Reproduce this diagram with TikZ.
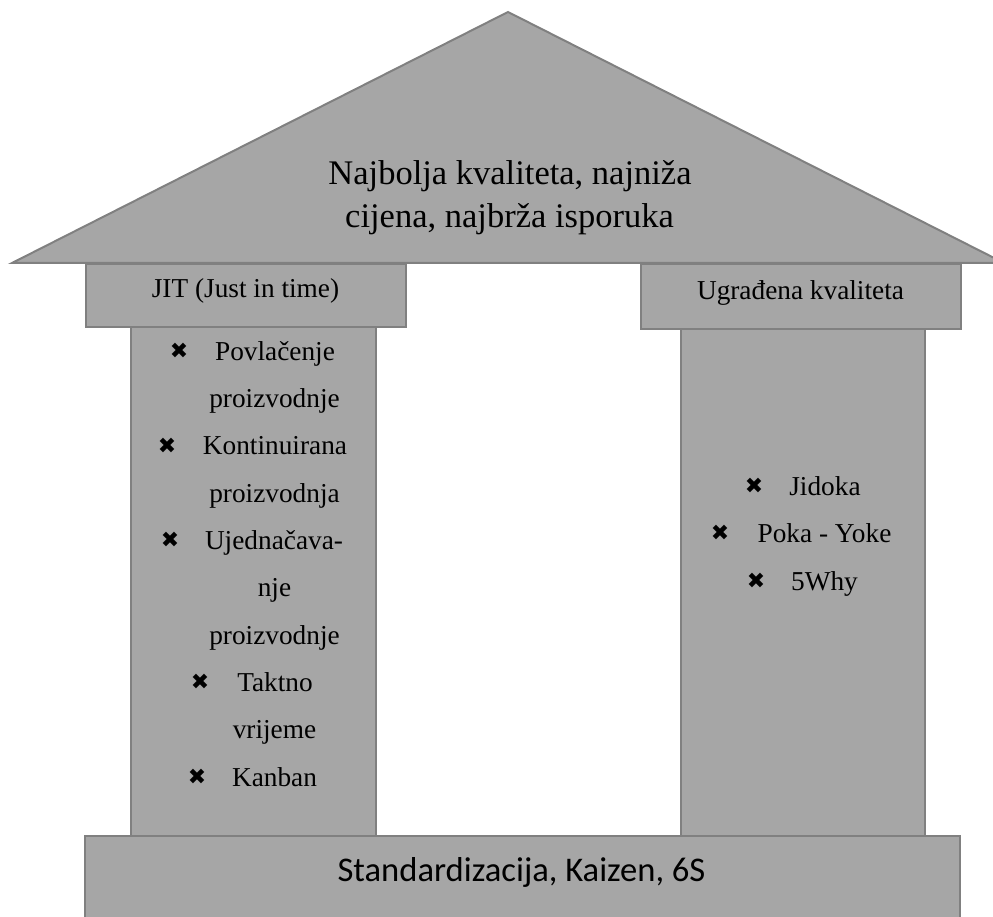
\documentclass[tikz,border=0pt]{standalone}
\usepackage{fontspec}
\setmainfont{Liberation Serif}
\newfontfamily\calibri{Carlito}
\newfontfamily\symb{DejaVu Sans}
\definecolor{fillg}{RGB}{166,166,166}
\definecolor{lineg}{RGB}{128,128,128}
\begin{document}
\begin{tikzpicture}[x=1pt,y=-1pt,
  blk/.style={fill=fillg, draw=lineg, line width=2pt, rectangle, inner sep=0pt, anchor=north west},
  lbl/.style={font=\fontsize{27.3}{33}\selectfont, inner sep=0pt, anchor=mid, yshift=-6pt},
  rooftxt/.style={font=\fontsize{34.5}{42}\selectfont, inner sep=0pt, anchor=base},
  bul/.style={font=\symb\fontsize{22}{22}\selectfont, inner sep=0pt, anchor=center}
]
\useasboundingbox (0,0) rectangle (993,917);
% pillars
\node[blk, minimum width=245pt, minimum height=510pt] (lp) at (130,326) {};
\node[blk, minimum width=244pt, minimum height=508pt] (rp) at (680,328) {};
% capitals
\node[blk, minimum width=320pt, minimum height=63pt] (lcap) at (85,263) {};
\node[blk, minimum width=320pt, minimum height=65pt] (rcap) at (640,263) {};
% roof
\coordinate (rl) at (12,263);
\coordinate (ra) at (508,12);
\coordinate (rr) at (993,257.4);
\coordinate (rb) at (993,263);
\fill[fillg] (rl) -- (ra) -- (rr) -- (rb) -- cycle;
\draw[lineg, line width=2pt, line join=miter] (rr) -- (ra) -- (rl) -- (rb);
% base
\node[fill=fillg, inner sep=0pt, anchor=north west, minimum width=875pt, minimum height=81pt] (base) at (85,836) {};
\draw[lineg, line width=2pt] (base.south west) -- (base.north west) -- (base.north east) -- (base.south east);
% texts
\node[rooftxt] (r1) at (510,185) {Najbolja kvaliteta, najniža};
\node[rooftxt] (r2) at (509.5,228) {cijena, najbrža isporuka};
\node[lbl] (jit) at (245.5,289) {JIT (Just in time)};
\node[lbl] (ugr) at (800.5,291) {Ugrađena kvaliteta};
\node[font=\calibri\fontsize{34.6}{40}\selectfont, inner sep=0pt, anchor=mid] (std) at (521.5,879) {Standardizacija, Kaizen, 6S};
% left list
\node[bul] (b1) at (179,351) {✖};
\node[lbl] (l1) at (275,352) {Povlačenje};
\node[lbl] (l2) at (274.5,399.3) {proizvodnje};
\node[bul] (b2) at (167,446) {✖};
\node[lbl] (l3) at (275,446.6) {Kontinuirana};
\node[lbl] (l4) at (274.5,494) {proizvodnja};
\node[bul] (b3) at (170,540) {✖};
\node[lbl] (l5) at (274,541.2) {Ujednačava-};
\node[lbl] (l6) at (274.5,588.5) {nje};
\node[lbl] (l7) at (274.5,635.8) {proizvodnje};
\node[bul] (b4) at (200,682) {✖};
\node[lbl] (l8) at (275,683.1) {Taktno};
\node[lbl] (l9) at (274.5,730.4) {vrijeme};
\node[bul] (b5) at (197,777) {✖};
\node[lbl] (l10) at (274.5,777.7) {Kanban};
% right list
\node[bul] (c1) at (754,486) {✖};
\node[lbl] (m1) at (825,487) {Jidoka};
\node[bul] (c2) at (720,533) {✖};
\node[lbl] (m2) at (824.5,534.5) {Poka - Yoke};
\node[bul] (c3) at (756,581) {✖};
\node[lbl] (m3) at (824.5,582) {5Why};
\end{tikzpicture}
\end{document}
